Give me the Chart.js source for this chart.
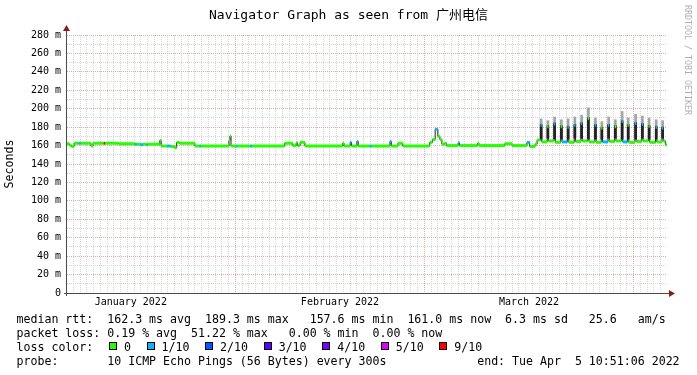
<!DOCTYPE html>
<html>
<head>
<meta charset="utf-8">
<title>Navigator Graph</title>
<script src="https://cdn.jsdelivr.net/npm/chart.js@4/dist/chart.umd.min.js"></script>
<style>
  body { margin: 0; background: #fff; }
  #wrap { position: relative; width: 697px; height: 375px; font-family: "DejaVu Sans Mono", monospace; color: #000; }
  #chart { position: absolute; left: 0; top: 0; }
  .title { position: absolute; left: 0; top: 7px; width: 697px; text-align: center; font-size: 13px; line-height: 16px;
           font-family: "DejaVu Sans Mono", "Noto Sans CJK SC", monospace; }
  .wm { position: absolute; left: 683px; top: 5px; writing-mode: vertical-rl; font-size: 8.3px; line-height: 10px; color: #b0b0b0; }
  .legend { position: absolute; left: 16.5px; top: 312px; font-size: 11.6px; line-height: 14px; white-space: pre; }
  .box { display: inline-block; width: 6px; height: 6px; border: 1px solid #000; margin-left: 1.7px; vertical-align: 1px; }
</style>
</head>
<body>
<div id="wrap">
  <canvas id="chart" width="697" height="375"></canvas>
  <div class="title">Navigator Graph as seen from 广州电信</div>
  <div class="wm">RRDTOOL / TOBI OETIKER</div>
  <div class="legend" id="legend"></div>
</div>
<script>
// x values are days since 1 Jan 2022 00:00, y values are median rtt in ms
const startDay = 5.55;
const endDay = 94.45;

// median steps: each value holds from its day until the next one
const stepDays = [
  5.55, 5.9, 6.2, 6.6, 7.3, 7.6, 9.1, 9.4, 11.0, 11.2,
  13.2, 15.6, 15.9, 16.4, 16.8, 17.3, 17.5, 19.3, 19.5, 20.4,
  20.9, 21.5, 21.8, 22.2, 24.5, 25.2, 25.4, 29.55, 29.7, 29.85,
  30.6, 30.8, 32.7, 33.0, 37.8, 39.0, 39.5, 39.7, 40.1, 40.8,
  46.4, 46.6, 47.5, 47.7, 48.5, 48.7, 50.4, 50.7, 53.4, 53.6,
  54.6, 55.3, 59.3, 59.7, 60.1, 60.5, 60.8, 61.1, 61.5, 61.8,
  63.5, 63.7, 66.4, 66.6, 70.4, 71.5, 73.7, 74.1, 74.9, 75.2,
  75.7, 75.9, 76.7, 76.9, 77.7, 77.9, 78.7, 78.9, 79.7, 79.9,
  80.7, 80.9, 81.7, 81.9, 82.7, 82.9, 83.75, 83.95, 84.7, 84.9,
  85.7, 85.9, 86.7, 86.9, 87.7, 87.9, 88.6, 88.8, 89.7, 89.9,
  90.7, 90.9, 91.7, 91.9, 92.75, 92.95, 93.7, 93.9, 94.2
];
const stepMedian = [
  162, 160.5, 159, 162.5, 162.5, 162.5, 159.5, 162.5, 162.5, 162.5,
  162, 161.5, 161.5, 161, 161.5, 161, 161.5, 165.5, 159.5, 159.5,
  159, 157.6, 163.5, 162.5, 159.5, 159.5, 159.5, 165.5, 170.5, 159.5,
  159.5, 159.5, 159.5, 159.5, 162.5, 160, 163, 160, 163.5, 159.5,
  162.5, 159.5, 163.5, 159.5, 164.5, 159.5, 159.5, 159.5, 164.5, 159.5,
  162.5, 159.5, 163.5, 166.5, 177.7, 170, 166.5, 161.5, 162.5, 160,
  163, 160, 162.5, 160, 162, 160, 163.5, 159, 161.5, 166,
  182, 164, 180.5, 165, 183.5, 163.5, 180.5, 164, 180, 163.5,
  182, 164.5, 184, 165, 189.3, 164, 182, 163.5, 179, 164,
  182, 164.5, 180.5, 165, 186, 164, 182, 163.5, 184, 164.5,
  183, 165, 181, 163.5, 180, 164, 179, 165, 161
];
// lost pings out of 10 for each step
const stepLoss = [
  0, 0, 0, 0, 1, 0, 0, 0, 9, 0,
  0, 1, 0, 1, 0, 1, 0, 0, 0, 1,
  0, 0, 0, 0, 0, 1, 0, 0, 0, 0,
  1, 0, 1, 0, 0, 0, 0, 0, 0, 0,
  0, 0, 1, 0, 1, 0, 1, 0, 1, 0,
  0, 0, 0, 0, 1, 0, 0, 0, 0, 0,
  1, 0, 0, 0, 0, 0, 1, 0, 0, 0,
  1, 0, 0, 0, 1, 0, 0, 1, 1, 0,
  1, 0, 1, 0, 0, 0, 1, 0, 0, 1,
  1, 0, 0, 0, 1, 1, 0, 0, 1, 0,
  1, 0, 0, 0, 1, 0, 1, 0, 0
];

// smoke (ping spread) at the March evening peaks
const smokeDays = [75.8, 76.8, 77.8, 78.8, 79.8, 80.8, 81.8, 82.8, 83.85, 84.8,
                   85.8, 86.8, 87.8, 88.7, 89.8, 90.8, 91.8, 92.85, 93.8];
const smokeLow = [167, 168, 167, 167, 167, 168, 168, 167, 167, 167,
                  168, 168, 167, 167, 167, 168, 167, 167, 168];
const smokeMid = [183, 181.5, 184.5, 181.5, 181, 183, 185, 190.3, 183, 180,
                  183, 181.5, 187, 183, 185, 184, 182, 181, 180];
const smokeTop = [189, 187, 191, 188, 189, 191, 193, 201, 190, 186,
                  191, 188, 197, 190, 194, 192, 190, 188, 187];

// axis labels
const yMax = 280;
const majorDays = [31, 59, 90];
const labelDays = [15, 46, 74];
const labelNames = ['January 2022', 'February 2022', 'March 2022'];

// loss colour legend
const lossSteps = [0, 1, 2, 3, 4, 5, 9];
const lossNames = ['0', '1/10', '2/10', '3/10', '4/10', '5/10', '9/10'];
const lossHex = ['#26ff00', '#00b8ff', '#0059ff', '#5e00ff', '#7e00ff', '#dd00ff', '#ff0000'];

const legendLines = [
  'median rtt:  162.3 ms avg  189.3 ms max   157.6 ms min  161.0 ms now  6.3 ms sd   25.6   am/s',
  'packet loss: 0.19 % avg  51.22 % max   0.00 % min  0.00 % now'
];
const probeLine = 'probe:       10 ICMP Echo Pings (56 Bytes) every 300s             end: Tue Apr  5 10:51:06 2022';

function lossColor(n) {
  let c = lossHex[0];
  lossSteps.forEach((s, i) => { if (n >= s) c = lossHex[i]; });
  return c;
}

// legend text below the graph
const legend = document.getElementById('legend');
let html = legendLines.join('\n') + '\nloss color:  ';
lossNames.forEach((name, i) => {
  html += '<span class="box" style="background:' + lossHex[i] + '"></span> ' + name + (i < lossNames.length - 1 ? '  ' : '');
});
html += '\n' + probeLine;
legend.innerHTML = html;

// data for the library
const medianLine = stepDays.map((d, i) => ({ x: d, y: stepMedian[i] }));
medianLine.push({ x: endDay, y: stepMedian[stepMedian.length - 1] });

const bandPoints = [];
stepDays.forEach((d, i) => {
  const next = i < stepDays.length - 1 ? stepDays[i + 1] : endDay;
  bandPoints.push({ x: d, y: stepMedian[i] }, { x: next, y: stepMedian[i] });
});

const tickDays = [];
for (let d = Math.ceil(startDay); d <= endDay; d++) tickDays.push(d);

const gridMinor = '#d6d6d6';
const gridMajor = '#e2a8a8';
const monoFont = 'DejaVu Sans Mono';

Chart.defaults.font.family = monoFont;
Chart.defaults.color = '#000';

// axis lines with arrows like rrdtool
const rrdAxes = {
  id: 'rrdAxes',
  afterDraw(chart) {
    const { ctx, chartArea: a } = chart;
    const ax = a.left - 0.5;
    const ay = a.bottom + 0.5;
    ctx.save();
    ctx.strokeStyle = '#4a4a4a';
    ctx.lineWidth = 1;
    ctx.beginPath();
    ctx.moveTo(ax, a.bottom + 3);
    ctx.lineTo(ax, a.top - 4);
    ctx.moveTo(a.left - 3, ay);
    ctx.lineTo(a.right + 2, ay);
    ctx.stroke();
    ctx.fillStyle = '#8b1c1c';
    ctx.beginPath();
    ctx.moveTo(ax, a.top - 10);
    ctx.lineTo(ax - 3.5, a.top - 4);
    ctx.lineTo(ax + 3.5, a.top - 4);
    ctx.closePath();
    ctx.fill();
    ctx.beginPath();
    ctx.moveTo(a.right + 8, ay);
    ctx.lineTo(a.right + 2, ay - 3.5);
    ctx.lineTo(a.right + 2, ay + 3.5);
    ctx.closePath();
    ctx.fill();
    ctx.restore();
  }
};

new Chart(document.getElementById('chart'), {
  type: 'line',
  data: {
    datasets: [
      {
        label: 'median loss colour',
        data: bandPoints,
        borderWidth: 3,
        borderCapStyle: 'butt',
        pointRadius: 0,
        order: 0,
        segment: {
          borderColor: c => c.p0DataIndex % 2 ? 'rgba(0,0,0,0)' : lossColor(stepLoss[c.p0DataIndex / 2])
        }
      },
      {
        label: 'median rtt',
        data: medianLine,
        stepped: true,
        borderColor: '#202020',
        borderWidth: 1,
        pointRadius: 0,
        order: 1
      },
      {
        type: 'bar',
        label: 'smoke dark',
        data: smokeDays.map((d, i) => ({ x: d, y: [smokeLow[i], smokeMid[i]] })),
        backgroundColor: '#2a2a2a',
        barThickness: 2,
        grouped: false,
        order: 2
      },
      {
        type: 'bar',
        label: 'smoke light',
        data: smokeDays.map((d, i) => ({ x: d, y: [smokeMid[i], smokeTop[i]] })),
        backgroundColor: '#a4a4a4',
        barThickness: 2,
        grouped: false,
        order: 3
      }
    ]
  },
  options: {
    responsive: false,
    animation: false,
    devicePixelRatio: 1,
    layout: { padding: { left: 0, right: 30, top: 35, bottom: 62 } },
    plugins: { legend: { display: false }, tooltip: { enabled: false } },
    scales: {
      x: {
        type: 'linear',
        min: startDay,
        max: endDay,
        offset: false,
        afterBuildTicks: s => { s.ticks = tickDays.map(v => ({ value: v })); },
        afterFit: s => { s.height = 20; },
        ticks: {
          autoSkip: false,
          maxRotation: 0,
          padding: 3,
          font: { family: monoFont, size: 10 },
          callback: v => {
            const i = labelDays.indexOf(v);
            return i >= 0 ? labelNames[i] : '';
          }
        },
        grid: {
          drawTicks: false,
          color: c => (c.tick && majorDays.includes(c.tick.value)) ? gridMajor : gridMinor
        },
        border: { display: false, dash: [1, 1] }
      },
      y: {
        min: 0,
        max: yMax,
        afterFit: s => { s.width = 67; },
        ticks: {
          stepSize: 10,
          autoSkip: false,
          padding: 6,
          font: { family: monoFont, size: 10 },
          callback: v => (v % 20 ? '' : (v === 0 ? '0' : v + ' m'))
        },
        grid: {
          drawTicks: false,
          color: c => (c.tick && c.tick.value % 20 === 0) ? gridMajor : gridMinor
        },
        border: { display: false, dash: [1, 1] },
        title: {
          display: true,
          text: 'Seconds',
          font: { family: monoFont, size: 11.6 },
          padding: { top: 3, bottom: 0 }
        }
      }
    }
  },
  plugins: [rrdAxes]
});
</script>
</body>
</html>
